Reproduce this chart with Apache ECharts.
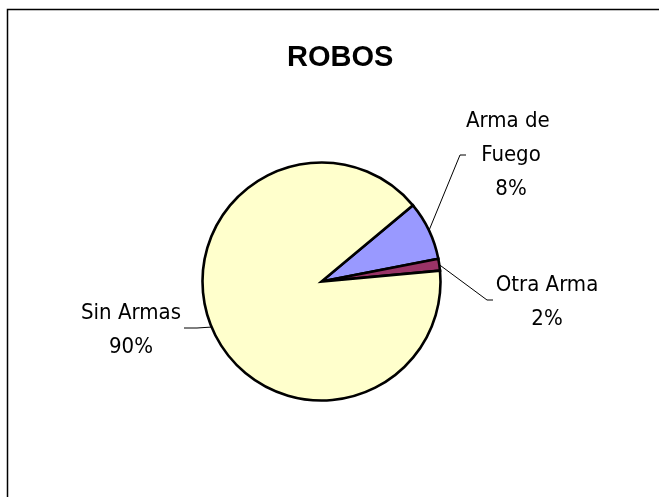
<!DOCTYPE html>
<html>
<head>
<meta charset="utf-8">
<script src="https://cdn.jsdelivr.net/npm/echarts@6/dist/echarts.min.js"></script>
<style>
  html, body { margin: 0; padding: 0; background: #fff; }
  #chart { width: 659px; height: 497px; }
</style>
</head>
<body>
<div id="chart"></div>
<script>
// ROBOS: reparto por tipo de arma
const categories = ['Arma de Fuego', 'Otra Arma', 'Sin Armas']
const values = [8.0, 1.6, 90.4]
const colors = ['#9999FF', '#993366', '#FFFFCC']

const LABEL_FONT = "'DejaVu Sans Condensed', 'Arial Narrow', sans-serif"

// posición de cada etiqueta y del quiebre de su línea guía
const labelPos = [
  { x: 511, y: 155, bend: [460, 155], end: [466, 155] },
  { x: 547, y: 302, bend: [487, 300], end: [493, 300] },
  { x: 131, y: 330, bend: [197, 328], end: [184, 328] },
]

const chart = echarts.init(document.getElementById('chart'))

chart.setOption({
  animation: false,
  backgroundColor: '#fff',
  title: {
    text: 'ROBOS',
    left: 282,
    top: 38,
    textStyle: {
      fontFamily: "'Liberation Sans', Arial, sans-serif",
      fontWeight: 'bold',
      fontSize: 29,
      color: '#000',
    },
  },
  graphic: [{
    type: 'rect',
    shape: { x: 7.5, y: 9.5, width: 700, height: 600 },
    style: { fill: 'none', stroke: '#000', lineWidth: 1.5 },
    silent: true,
    z: -1,
  }],
  series: [{
    type: 'pie',
    center: [321.5, 281.5],
    radius: 119,
    startAngle: 39.8,
    clockwise: true,
    data: categories.map((name, i) => ({
      name,
      value: values[i],
      itemStyle: { color: colors[i] },
      label: i === 0 ? { width: 115, overflow: 'break' } : {},
    })),
    itemStyle: { borderColor: '#000', borderWidth: 2.6, borderJoin: 'miter' },
    label: {
      show: true,
      position: 'outside',
      formatter: (p) => `${p.name}\n${Math.round(p.percent)}%`,
      fontFamily: LABEL_FONT,
      fontSize: 22,
      lineHeight: 34,
      color: '#000',
      align: 'center',
    },
    labelLine: {
      show: true,
      length: 20,
      length2: 10,
      lineStyle: { color: '#000', width: 1 },
    },
    labelLayout: (params) => {
      const pos = labelPos[params.dataIndex]
      const pts = params.labelLinePoints
      const out = { x: pos.x, y: pos.y, align: 'center', verticalAlign: 'middle' }
      if (pts) out.labelLinePoints = [pts[0], pos.bend, pos.end]
      return out
    },
    emphasis: { disabled: true },
  }],
})
</script>
</body>
</html>
